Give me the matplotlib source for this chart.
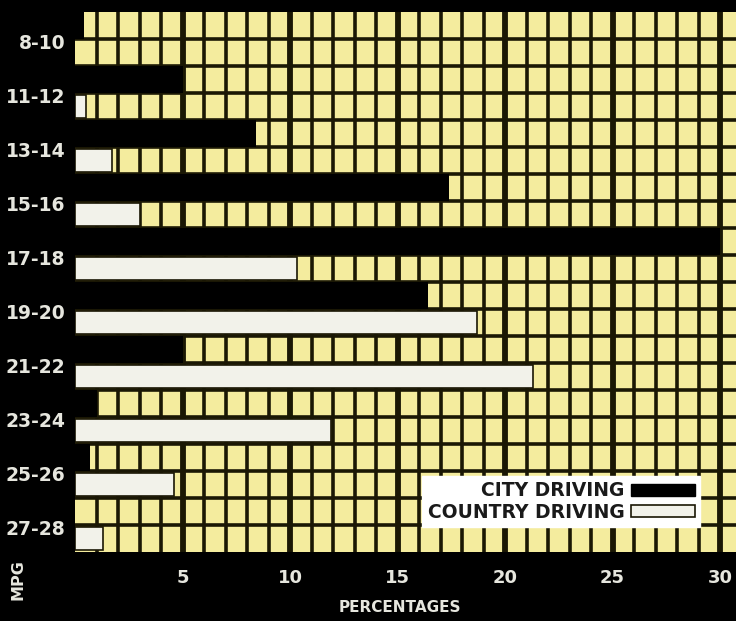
import matplotlib
matplotlib.use("Agg")
import matplotlib.pyplot as plt
from matplotlib.patches import Patch
import numpy as np

categories = ["8-10", "11-12", "13-14", "15-16", "17-18", "19-20", "21-22", "23-24", "25-26", "27-28"]
city = [0.4, 5.0, 8.4, 17.4, 30.0, 16.4, 5.0, 1.0, 0.7, 0.0]
country = [0.0, 0.5, 1.7, 3.0, 10.3, 18.7, 21.3, 11.9, 4.6, 1.3]
xticks = [5, 10, 15, 20, 25, 30]

BG = "black"
YELLOW = "#f4ec9e"
LINE = "#1a1704"
WHITE = "#f2f2ea"
TXT = "#e6e6de"
FONT = ["DejaVu Sans"]

fig = plt.figure(figsize=(7.36, 6.21), dpi=100, facecolor=BG)
ax = fig.add_axes([0.102, 0.111, 0.898, 0.8695])
ax.set_facecolor(YELLOW)

n = len(categories)
nrows = 2 * n
xmax = 30.74
ax.set_xlim(0, xmax)
ax.set_ylim(nrows, 0)

# grid
for v in range(1, int(xmax) + 1):
    ax.axvline(v, color=LINE, lw=4.2 if v % 5 == 0 else 2.6, zorder=1)
for r in range(1, nrows):
    ax.axhline(r, color=LINE, lw=2.6, zorder=1)

idx = np.arange(n)
ax.barh(2 * idx + 0.5, city, height=1.0, color="black", lw=0, zorder=3)
ctry = np.array(country)
ax.barh(2 * idx[ctry > 0] + 1.5, ctry[ctry > 0], height=0.86, color=WHITE,
        edgecolor=LINE, lw=1.2, zorder=3)

for s in ax.spines.values():
    s.set_visible(False)

ax.set_yticks(2 * idx + 1.1)
ax.set_yticklabels(categories)
ax.set_xticks(xticks)
ax.set_xticklabels([str(t) for t in xticks])
ax.tick_params(length=0, colors=TXT)
ax.tick_params(axis="y", pad=7)
ax.tick_params(axis="x", pad=12)
for lab in ax.get_yticklabels():
    lab.set_fontfamily(FONT); lab.set_fontweight("bold"); lab.set_fontsize(13.5)
for lab in ax.get_xticklabels():
    lab.set_fontfamily(FONT); lab.set_fontweight("bold"); lab.set_fontsize(13)

fig.text(0.543, 0.021, "PERCENTAGES", color=TXT, fontsize=11, fontweight="bold",
         family=FONT, ha="center", va="center")
fig.text(0.025, 0.066, "MPG", color=TXT, fontsize=11.5, fontweight="bold",
         family=FONT, ha="center", va="center", rotation=90)

handles = [Patch(facecolor="black", edgecolor="black", label="CITY DRIVING"),
           Patch(facecolor=WHITE, edgecolor=LINE, lw=1.2, label="COUNTRY DRIVING")]
leg = ax.legend(handles=handles, loc="lower right", bbox_to_anchor=(0.946, 0.046),
                markerfirst=False, frameon=True, fancybox=False, borderaxespad=0,
                prop={"family": FONT, "weight": "bold", "size": 13.5},
                handlelength=3.4, handleheight=0.62, handletextpad=0.35, labelspacing=0.12,
                borderpad=0.3)
leg.get_frame().set_facecolor("white")
leg.get_frame().set_edgecolor("white")
leg.get_frame().set_alpha(1)
leg.set_zorder(5)
for t in leg.get_texts():
    t.set_color("#1a1a1a")

fig.savefig("out.png", dpi=100, facecolor=BG)
